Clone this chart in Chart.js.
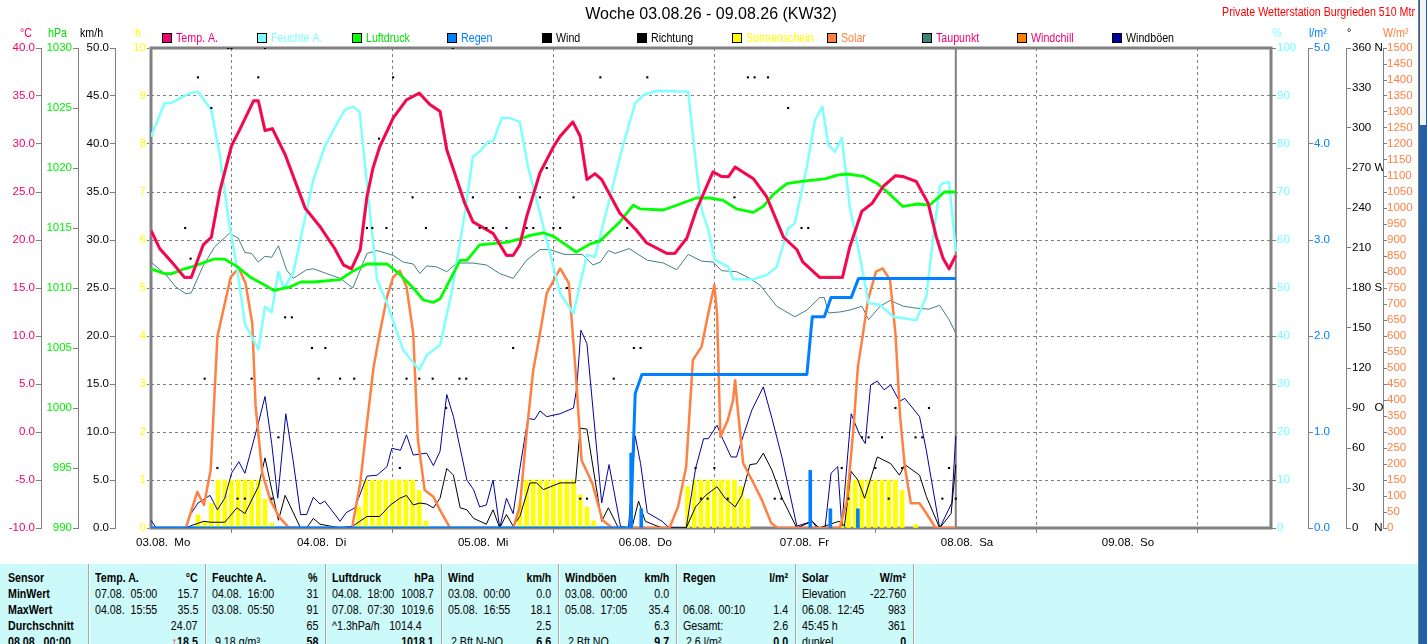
<!DOCTYPE html>
<html>
<head>
<meta charset="utf-8">
<script src="https://cdn.jsdelivr.net/npm/chart.js@4.4.0/dist/chart.umd.min.js"></script>
<style>
html,body{margin:0;padding:0;background:#fff;width:1427px;height:644px;overflow:hidden;}
#wrap{position:relative;width:1427px;height:644px;}
#chartBox{position:absolute;left:0;top:0;width:1418px;height:560px;}
#table{position:absolute;left:0;top:564px;width:1418px;height:80px;background:#ccf9f9;overflow:hidden;
  font-family:'Liberation Sans',Arial,sans-serif;font-size:13px;color:#000;}
.cell{position:absolute;white-space:pre;line-height:16px;height:16px;}
.sep{position:absolute;top:0;width:1px;height:80px;background:#a8a8a8;border-right:1px solid #f4ffff;}
#sb{position:absolute;left:1418px;top:0;width:9px;height:644px;background:#2261a8;border-left:1px solid #7a7a7a;box-sizing:border-box;}
#sbTop{position:absolute;left:0;top:0;width:8px;height:125px;background:#f2f2f2;border-left:1px solid #2261a8;border-right:1px solid #2261a8;box-sizing:border-box;}
</style>
</head>
<body>
<div id="wrap">
  <div id="chartBox"><canvas id="c"></canvas></div>
  <div id="table"></div>
  <div id="sb"><div id="sbTop"></div></div>
</div>
<script>
// ---------------- data (hour since 03.08. 00:00, value) ----------------
const dayLabels = ["03.08.  Mo","04.08.  Di","05.08.  Mi","06.08.  Do","07.08.  Fr","08.08.  Sa","09.08.  So"];
const nowHour = 120;

const temperature = [[0,21.0],[1.3,19.1],[3.1,17.7],[5,16.1],[6,16.1],[7.8,19.5],[9,20.3],[10.3,25.2],[12,29.8],[13.3,31.6],
 [15.3,34.5],[16,34.5],[17,31.4],[18.1,31.6],[20,28.9],[23,23.3],[25.2,21.4],[27.4,19.1],[28.7,17.4],[29.9,17.0],
 [31.2,19.0],[32.2,24.5],[33.1,27.5],[34.1,29.7],[36.1,32.7],[38.1,34.6],[40,35.3],[41.6,34.1],[43.1,33.4],[44.1,29.4],
 [46.8,23.8],[48,21.9],[51,20.7],[53,18.4],[54,18.4],[55,19.5],[56,22.4],[58,27.0],[60,29.7],[61,30.8],
 [62.9,32.3],[64,30.8],[65,26.3],[66.2,26.9],[67.2,26.3],[69.9,22.8],[72.4,21.0],[73.9,19.7],[76.9,18.6],[78.1,18.6],
 [79.9,20.2],[81.3,23.1],[83.8,27.1],[85.1,26.6],[86.1,26.6],[87.1,27.6],[89.8,26.4],[91.8,24.5],[94.3,20.3],[96.3,19.0],
 [97.2,17.7],[99.7,16.1],[103.1,16.1],[104.2,19.3],[106,23.0],[107.5,23.8],[109.2,25.6],[111,26.7],[112.2,26.6],[114.1,26.1],
 [115.9,23.8],[117.1,20.3],[118.1,18.1],[119,17.0],[120,18.4]];

const windchill = temperature; // identical to the temperature curve in the picture

const humidity = [[0,81.5],[2,88.5],[3.1,88.6],[5.8,90.6],[7,90.9],[9,87.1],[10.3,77.4],[11.5,64.9],[12.8,54.4],[14,42.6],
 [16,37.2],[17,46.1],[18,45],[19,53.4],[19.8,49.9],[21.2,53.1],[22.7,62.8],[24.2,72.5],[25.9,79.4],[27.2,82.9],
 [28.9,87.1],[30.1,87.8],[31.1,86.7],[32.2,71.8],[33.7,51.7],[35.2,46.8],[37.6,37.1],[40,32.9],[41.1,36],[43.1,38.1],
 [44.8,48.9],[46.8,65.6],[48,77.4],[49,78.4],[50.3,80.5],[51,80.5],[52.3,85.4],[53.5,85.4],[55,84.6],[56.2,75.3],
 [58,65.6],[59.5,57.2],[61,48.9],[63,44.7],[64,51],[65,56.9],[66.2,56.5],[68.2,67.6],[70.2,78.8],[72.2,88.5],
 [73.4,90.2],[75.4,91.1],[80.1,90.9],[81.3,75.3],[82.1,66.3],[83.1,62.1],[84.1,55.8],[86.1,54.4],[86.8,51.8],[89.8,51.8],
 [91.8,52.7],[93.3,54.4],[95,62.4],[96,63.5],[97.8,75.3],[99,85],[100.1,87.8],[101,79.8],[102,78.4],[103,81.3],
 [104.2,66.9],[105.7,56.5],[107,46.8],[108.7,46.5],[110.7,44],[114.1,43.3],[115.6,48.2],[116.6,60],[117.6,71.1],[118,71.8],
 [119,72.1],[120,57.6]];

const pressure = [[0,1011.6],[2,1011.2],[3.1,1011.2],[5,1011.6],[6.3,1011.8],[9.3,1012.4],[11,1012.4],[12.8,1011.8],[14.8,1010.9],[16.8,1010.3],
 [18.3,1009.8],[20.8,1010.1],[22.3,1010.5],[24.2,1010.5],[28.2,1010.7],[30.1,1011.4],[32.2,1012],[35.2,1012],[37,1011.2],[39.1,1010],
 [40.6,1009],[42.1,1008.8],[43.1,1009.1],[46.1,1012.3],[47.1,1012.3],[49,1013.6],[51,1013.7],[53,1013.8],[55,1014.1],[56.7,1014.4],
 [58.5,1014.6],[60,1014.3],[61.6,1013.7],[63.4,1013.0],[65.6,1013.7],[66.9,1013.9],[69.9,1015.5],[71.9,1016.9],[72.9,1016.6],[76.4,1016.5],
 [78.4,1016.9],[81.3,1017.5],[83.3,1017.5],[85.3,1017.3],[87.3,1016.6],[89.8,1016.3],[91.3,1016.8],[92.8,1017.8],[94.8,1018.7],[97.3,1018.9],
 [100.5,1019.1],[102.3,1019.4],[103.8,1019.5],[106.3,1019.3],[108.3,1018.7],[109.8,1018],[112.1,1016.8],[114.3,1017],[116.1,1016.9],[118.3,1018],
 [120,1018]];

const dewpoint = [[0,17.7],[2.2,16.4],[3.7,15.1],[5.2,14.4],[6,14.5],[7.7,17.2],[9.5,19.3],[11.7,20.7],[13,20.2],[14,18.7],
 [15,18.6],[16,17.7],[17,18.3],[18,18.2],[19,19.4],[20.2,16.9],[21.2,16.0],[23.2,16.9],[24.2,17.0],[26.2,16.5],
 [28.2,16.0],[30.1,15],[32.2,18.6],[33.7,18.9],[36.1,18.4],[37.6,17.7],[39.1,17.5],[40.1,16.5],[41.1,17.3],[42.6,17.2],
 [44.1,16.7],[45.6,17.6],[48,17.6],[50,17.4],[52,16.5],[54,16],[56,17.9],[58,19.0],[59.5,19.0],[61.6,18.5],
 [64.3,18.5],[65.9,17.4],[67,17.7],[68.2,18.9],[69.2,18.6],[71.3,19.1],[74,17.9],[76.4,17.6],[78.4,16.9],[80.1,18.5],
 [82.1,17.8],[83.8,17.7],[85.1,16.8],[87.3,16.7],[89.3,16.0],[90.8,15.3],[93.3,13.1],[96,12.0],[97.8,12.7],[99.7,14.0],
 [100.4,14.0],[101,12.4],[102.7,12.5],[104.2,12.7],[106,13.1],[107,11.7],[108.7,13.1],[110.2,13.7],[112.2,13.1],[114.1,12.9],
 [116,12.8],[117.6,13.2],[119,11.7],[120,10.3]];

const solar = [[0,0],[5.2,0],[6.9,113],[7.9,72],[8.9,181],[9.9,598],[10.9,692],[11.9,785],[13.1,812],[14.1,765],
 [15.1,640],[15.6,379],[16.6,171],[17.8,87],[19.1,35],[20.6,0],[30,0],[30.1,15],[31.2,140],[32.2,327],
 [33.2,504],[34.1,608],[35.2,723],[36.1,783],[37.1,804],[38.1,754],[39.1,608],[39.8,275],[40.8,119],[42.1,98],
 [43.1,56],[44.6,0],[54,0],[55,67],[56,296],[57,494],[58,608],[59,733],[61,811],[62.3,765],
 [63.3,494],[64.2,212],[65.8,140],[67.3,25],[68.8,0],[77.3,0],[78.6,67],[79.8,192],[80.8,525],[82.1,567],
 [83.1,671],[84,759],[84.4,671],[84.9,285],[86,337],[86.8,400],[87.1,462],[87.5,369],[88.3,202],[89.6,150],
 [91.1,87],[92.5,15],[93.5,0],[102.7,0],[103.8,87],[104.8,327],[105.4,504],[106.1,598],[106.9,712],[108.1,801],
 [109.1,811],[110.2,775],[111,608],[111.7,348],[112.4,192],[113.3,77],[114.6,77],[115.6,46],[117,0],[120,0]];

const wind = [[0,0],[5.2,0],[6.2,0.3],[7.9,0.7],[8.9,0.6],[11,0.6],[12.8,2.1],[14,1.5],[16,4.3],[17,7.3],
 [18,4.0],[19,0.8],[20,3.4],[22.3,0],[23.2,0],[24.2,1.0],[25.2,0.4],[28.2,0],[30.1,0.2],[32.2,1.2],
 [34.1,1.2],[35.7,2.4],[37.1,3.1],[38.1,3.4],[39.1,2.4],[40.1,2.6],[41.1,2.5],[42.1,2.1],[43.1,3.1],[44.1,6.2],
 [45.1,5.5],[46.1,2.1],[47.1,1.9],[48.1,1.0],[50,0.4],[51,1.9],[52,0],[53,1.4],[54,0.2],[55,1.2],
 [56.5,4.7],[57.5,4.7],[58.5,4.0],[61,4.7],[63.3,4.7],[64,10.4],[65,10.3],[67.2,0.7],[68.2,2.1],[69.7,0],
 [71.7,0],[72.7,2.8],[73.7,0.7],[76.2,0],[79.8,0],[81.2,2.2],[82.7,3.4],[84.4,4.3],[85.6,3.1],[87.1,2.2],
 [88.1,3.4],[89.3,6.6],[90.3,6.7],[91.3,7.8],[92.6,6.0],[94.1,3.1],[96.3,0],[98.6,0.7],[99.6,0],[101.3,0.4],
 [102.6,0.7],[103.4,0.2],[104.4,5.9],[105.4,5.0],[106.4,3.1],[108.3,7.4],[110.3,6.7],[111.6,5.5],[112.4,6.6],[114.6,5.5],
 [115.6,3.3],[117.6,0],[119.3,1.5],[120,6.6]];

const gusts = [[0,0.8],[0.8,0],[5.2,0],[5.7,1.2],[7,2.6],[8.8,3.4],[9.9,1.9],[11,3.1],[12,5.7],[13.1,6.9],
 [14,5.7],[16,10.9],[17,13.7],[18,8.8],[18.9,3.1],[20.1,11.9],[21.2,7.0],[22.3,1.4],[23.2,1.4],[24.2,3.2],
 [25.2,2.5],[25.9,2.8],[28.2,0.7],[29.1,1.6],[30.4,2.1],[32.2,5.4],[33.7,5.5],[35.2,6.4],[35.9,8.3],[37.2,8.1],
 [38.1,9.7],[39.1,7.6],[41.1,7.8],[42.1,6.5],[43.1,8.0],[44.1,13.9],[45.1,11.6],[47.1,5.0],[48.1,4.0],[49,2.2],
 [50,2.4],[51,5.0],[52,0],[53,3.1],[54,1.5],[55,6.2],[56.2,11.4],[57.2,11.3],[58,12.2],[59,11.6],
 [61,11.9],[63,12.5],[63.5,14.7],[64.1,20.6],[65,19.2],[67.2,2.6],[68.3,6.6],[70,0.2],[71.2,0],[72.2,9.6],
 [73,6.7],[74,1.6],[76.2,0.7],[77.3,0],[79.8,0],[81.2,6.2],[82.4,9.3],[83.1,9.3],[84.4,10.7],[85.3,9.2],
 [86.5,7.4],[87.3,7.4],[88.3,9.6],[89.6,12.3],[91.3,14.7],[92.6,11.4],[94.1,7.3],[96.3,0.2],[98.6,0.7],[99.3,0],
 [100.5,0],[101.4,5.7],[102.4,6.4],[103,0.2],[104.4,11.9],[105.6,9.8],[106.5,8.8],[107.3,14.9],[108.3,15.3],[109.3,14.4],
 [110.3,14.9],[111.6,13.2],[112.4,13.5],[114.6,11.6],[115.6,8.1],[117.6,0],[119.4,2.6],[120,9.6]];

const rainTotal = [[0,0],[71.5,0],[72.2,1.4],[73.2,1.6],[97.8,1.6],[98.6,2.2],[100.4,2.2],[101.4,2.4],[104.4,2.4],[105.5,2.6],[120,2.6]];
const rainBars = [[71.6,0.78],[73.1,0.2],[98.3,0.6],[101.3,0.2],[105.4,0.2]];

const sunshine = [[7,0.27],[8,0.12],[9,0.52],[10,1],[11,1],[12,1],[13,1],[14,1],[15,1],[16,1],[17,0.6],[18,0.1],
 [31,0.44],[32,1],[33,1],[34,1],[35,1],[36,1],[37,1],[38,1],[39,1],[40,0.78],[41,0.15],
 [55,0.52],[56,1],[57,1],[58,1],[59,1],[60,1],[61,1],[62,1],[63,1],[64,0.69],[65,0.44],[66,0.15],
 [80,0.86],[81,1],[82,1],[83,1],[84,1],[85,1],[86,1],[87,1],[88,0.86],[89,0.6],
 [103,0.12],[104,0.95],[105,1],[106,1],[107,1],[108,1],[109,1],[110,1],[111,1],[112,0.78],[114,0.07]];

const direction = [[5.1,225],[5.9,202],[7,338],[8,112],[9,315],[9.9,45],[11.5,360],[12,360],[12.9,22],[14,22],
 [15,112],[16,338],[17,360],[18,22],[19,68],[20,158],[21,158],[24,135],[25,112],[26,135],
 [28.2,112],[30.3,112],[32.2,225],[33,225],[34,292],[35.1,225],[36.1,338],[37.1,45],[38.1,112],[39,248],
 [40,112],[41,225],[42,112],[44,90],[45,360],[46,112],[47,112],[48,248],[49,225],[50,225],
 [51,225],[53,225],[54,135],[55,248],[56,225],[57,225],[58,248],[59,270],[60,225],[61,225],
 [62,180],[63,248],[64,22],[65,22],[67,338],[69,112],[71,225],[72,135],[73,135],[74,338],
 [81.2,45],[82,22],[83,22],[84,45],[86,22],[87,248],[89,338],[90,338],[92,338],[93,22],
 [94,22],[95,315],[97,225],[98,225],[103,45],[104,22],[106,68],[107,68],[108,45],[109,68],
 [110,22],[111,90],[112,45],[114,68],[115,68],[116,90],[118,22],[119,45],[120,22]];

const dirLetters = {360:"360 N",270:"270 W",180:"180 S",90:"90   O",0:"0     N"};

// table texts
const tableHead = [["Sensor",""],["Temp. A.","°C"],["Feuchte A.","%"],["Luftdruck","hPa"],["Wind","km/h"],["Windböen","km/h"],["Regen","l/m²"],["Solar","W/m²"]];
const tableMin  = [["MinWert",""],["07.08.  05:00","15.7"],["04.08.  16:00","31"],["04.08.  18:00","1008.7"],["03.08.  00:00","0.0"],["03.08.  00:00","0.0"],["",""],["Elevation","-22.760"]];
const tableMax  = [["MaxWert",""],["04.08.  15:55","35.5"],["03.08.  05:50","91"],["07.08.  07:30","1019.6"],["05.08.  16:55","18.1"],["05.08.  17:05","35.4"],["06.08.  00:10","1.4"],["06.08.  12:45","983"]];
const tableAvg  = [["Durchschnitt",""],["","24.07"],["","65"],["^1.3hPa/h","1014.4"],["","2.5"],["","6.3"],["Gesamt:","2.6"],["45:45 h","361"]];
const tableNow  = [["08.08.  00:00",""],["","18.5"],[" 9.18 g/m³","58"],["","1018.1"],[" 2 Bft N-NO","6.6"],[" 2 Bft NO","9.7"],[" 2.6 l/m²","0.0"],["dunkel","0"]];

// ---------------- styling ----------------
const FN = "'Liberation Sans',Arial,sans-serif";
const TICK = {family:FN, size:11.5};
const NARROW = 0.82;
const COL = {temp:'#f00070', hum:'#80ffff', press:'#00ff00', rain:'#0080ff', wind:'#000000', dir:'#000000',
  sun:'#ffff00', solar:'#ff8040', dew:'#408080', chill:'#ff8000', gust:'#0000a0', grid:'#808080'};
const pts = a => a.map(p => ({x:p[0], y:p[1]}));

function lineDS(label, data, axis, color, width, order){
  return {type:'line', label, data:pts(data), yAxisID:axis, borderColor:color, backgroundColor:color,
    borderWidth:width, pointRadius:0, tension:0, fill:false, order, borderJoinStyle:'round'};
}

const datasets = [
  {type:'bar', label:'Sonnenschein', data:pts(sunshine), yAxisID:'ySun', backgroundColor:COL.sun, barThickness:4, grouped:false, order:30},
  lineDS('Taupunkt', dewpoint, 'yT', COL.dew, 1, 20),
  lineDS('Windböen', gusts, 'yW', COL.gust, 1, 19),
  lineDS('Wind', wind, 'yW', COL.wind, 1, 18),
  lineDS('Solar', solar, 'ySol', COL.solar, 2.5, 17),
  lineDS('Feuchte A.', humidity, 'yH', COL.hum, 2.5, 16),
  lineDS('Luftdruck', pressure, 'yP', COL.press, 2.8, 15),
  lineDS('Windchill', windchill, 'yT', COL.chill, 3.2, 14),
  lineDS('Temp. A.', temperature, 'yT', COL.temp, 2.6, 13),
  {type:'bar', label:'Regen Menge', data:pts(rainBars), yAxisID:'yR', backgroundColor:COL.rain, barThickness:3, grouped:false, order:12},
  lineDS('Regen', rainTotal, 'yR', COL.rain, 3, 11),
  {type:'line', label:'Richtung', data:pts(direction), yAxisID:'yD', showLine:false, pointRadius:1.5, pointStyle:'rect',
   pointBorderWidth:0, pointBackgroundColor:COL.dir, borderColor:COL.dir, order:10}
];

function sideAxis(pos, weight, width, min, max, step, color, fmt, tickLen, pad){
  return {type:'linear', position:pos, weight, min, max,
    ticks:{stepSize:step, autoSkip:false, maxTicksLimit:200, includeBounds:false, color, padding:pad,
      font:TICK, callback:fmt},
    grid:{drawOnChartArea:false, drawTicks:true, tickLength:tickLen, tickColor:COL.grid, tickWidth:1},
    border:{display:true, color:COL.grid, width:1},
    afterFit:s => { s.width = width; }
  };
}

const transparent = 'rgba(0,0,0,0)';
const scales = {
  x:{type:'linear', position:'bottom', min:0, max:167, offset:false,
    ticks:{stepSize:24, includeBounds:false, autoSkip:false, maxRotation:0, minRotation:0, align:'start', labelOffset:-15,
      padding:3, color:'#000', font:TICK, callback:v => dayLabels[Math.round(v/24)] || ''},
    grid:{drawOnChartArea:true, color:c => (c.tick && (c.tick.value===0 || c.tick.value===nowHour)) ? transparent : COL.grid,
      lineWidth:1, drawTicks:true, tickLength:5, tickColor:COL.grid},
    border:{display:false, dash:[3,3]},
    afterFit:s => { s.height = 32; }
  },
  yT:  sideAxis('left', 4, 41, -10, 40, 5, COL.temp, v => v.toFixed(1), 5, 1),
  yP:  sideAxis('left', 3, 37, 990, 1030, 5, '#00f000', v => String(v), 5, 1),
  yW:  sideAxis('left', 2, 37, 0, 50, 5, '#000', v => v.toFixed(1), 5, 1),
  ySun:{type:'linear', position:'left', weight:1, min:0, max:10,
    ticks:{stepSize:1, autoSkip:false, includeBounds:false, color:COL.sun, padding:1, font:TICK, callback:v => String(v)},
    grid:{drawOnChartArea:true, color:c => (c.tick && (c.tick.value===0 || c.tick.value===10)) ? transparent : COL.grid,
      lineWidth:1, drawTicks:true, tickLength:4, tickColor:COL.grid, tickBorderDash:[2,2]},
    border:{display:false, dash:[3,3]},
    afterFit:s => { s.width = 36; }
  },
  yH:  sideAxis('right', 1, 37, 0, 100, 10, '#70ffff', v => String(v), 5, 1),
  yR:  sideAxis('right', 2, 38, 0, 5, 1, COL.rain, v => v.toFixed(1), 5, 1),
  yD:  sideAxis('right', 3, 37, 0, 360, 30, '#000', v => dirLetters[v] || String(v), 5, 1),
  ySol:sideAxis('right', 4, 35, 0, 1500, 50, COL.solar, v => String(v), 4, 0)
};

const legendItems = [
  ['Temp. A.', COL.temp, COL.temp], ['Feuchte A.', COL.hum, COL.hum], ['Luftdruck', COL.press, '#00e000'],
  ['Regen', COL.rain, COL.rain], ['Wind', '#000', '#000'], ['Richtung', '#000', '#000'],
  ['Sonnenschein', COL.sun, COL.sun], ['Solar', COL.solar, COL.solar], ['Taupunkt', COL.dew, COL.temp],
  ['Windchill', COL.chill, COL.temp], ['Windböen', COL.gust, '#000']
];
const unitLabels = [['°C',20,COL.temp],['hPa',48,'#00e000'],['km/h',80,'#000'],['h',135,COL.sun],
  ['%',1272,COL.hum],['l/m²',1309,COL.rain],['°',1347,'#000'],['W/m²',1383,COL.solar]];

function narrowText(ctx, text, x, y, align){
  ctx.save();
  ctx.translate(x, y); ctx.scale(NARROW, 1);
  ctx.textAlign = align || 'left';
  ctx.fillText(text, 0, 0);
  ctx.restore();
}

const overlay = {
  id:'overlay',
  beforeDatasetsDraw(chart){
    const {ctx, chartArea:a, scales:s} = chart;
    ctx.save();
    const xn = s.x.getPixelForValue(nowHour);
    ctx.strokeStyle = COL.grid; ctx.lineWidth = 2;
    ctx.beginPath(); ctx.moveTo(xn, a.top); ctx.lineTo(xn, a.bottom); ctx.stroke();
    ctx.lineWidth = 3;
    ctx.strokeRect(a.left, a.top, a.right - a.left, a.bottom - a.top);
    ctx.restore();
  },
  afterDraw(chart){
    const ctx = chart.ctx;
    ctx.save();
    ctx.textBaseline = 'middle';
    ctx.fillStyle = '#000'; ctx.textAlign = 'center';
    ctx.font = "16px 'Liberation Sans', Arial, sans-serif";
    ctx.fillText('Woche 03.08.26 - 09.08.26 (KW32)', 711, 15);
    ctx.font = "13px " + FN;
    ctx.fillStyle = '#ff0000';
    narrowText(ctx, 'Private Wetterstation Burgrieden 510 Mtr', 1415, 12, 'right');
    legendItems.forEach((it, i) => {
      const tx = 176 + 95 * i;
      ctx.fillStyle = it[1]; ctx.fillRect(tx - 14, 33, 10, 10);
      ctx.strokeStyle = '#000'; ctx.lineWidth = 1; ctx.strokeRect(tx - 13.5, 33.5, 9, 9);
      ctx.fillStyle = it[2]; narrowText(ctx, it[0], tx, 38.5, 'left');
    });
    unitLabels.forEach(u => { ctx.fillStyle = u[2]; narrowText(ctx, u[0], u[1], 33, 'left'); });
    ctx.restore();
  }
};

new Chart(document.getElementById('c'), {
  type:'line',
  data:{datasets},
  options:{
    responsive:true, maintainAspectRatio:false, animation:false, events:[],
    layout:{padding:{top:48, left:0, right:0, bottom:0}},
    plugins:{legend:{display:false}, tooltip:{enabled:false}, title:{display:false}},
    scales
  },
  plugins:[overlay]
});

// ---------------- table ----------------
(function(){
  const t = document.getElementById('table');
  const seps = [88,205,325,441,558,676,795,913];
  const bounds = [[0,88]].concat(seps.slice(0,-1).map((s,i) => [s, seps[i+1]]));
  seps.forEach(x => { const d = document.createElement('div'); d.className = 'sep'; d.style.left = x + 'px'; t.appendChild(d); });
  const rows = [tableHead, tableMin, tableMax, tableAvg, tableNow];
  rows.forEach((row, r) => {
    row.forEach((cell, c) => {
      const [x0, x1] = bounds[c];
      const top = 6 + 16 * r;
      const l = document.createElement('div');
      l.className = 'cell';
      l.style.left = (c === 0 ? 8 : x0 + 7) + 'px'; l.style.top = top + 'px';
      l.style.transform = 'scaleX(' + NARROW + ')'; l.style.transformOrigin = 'left center';
      l.textContent = cell[0];
      if (r === 0 || c === 0) l.style.fontWeight = 'bold';
      t.appendChild(l);
      if (cell[1] !== '') {
        const v = document.createElement('div');
        v.className = 'cell';
        const rp = (r === 3 && c === 3) ? 19 : 7;
        v.style.right = (1418 - (x1 - rp)) + 'px';
        v.style.textAlign = 'right';
        v.style.transform = 'scaleX(' + NARROW + ')'; v.style.transformOrigin = 'right center';
        v.style.top = top + 'px';
        if (r === 0 || r === 4) v.style.fontWeight = 'bold';
        if (r === 4 && c === 1) {
          const a = document.createElement('span'); a.style.color = '#ff0000'; a.textContent = '↑';
          v.appendChild(a); v.appendChild(document.createTextNode(cell[1]));
        } else v.textContent = cell[1];
        t.appendChild(v);
      }
    });
  });
})();
</script>
</body>
</html>
